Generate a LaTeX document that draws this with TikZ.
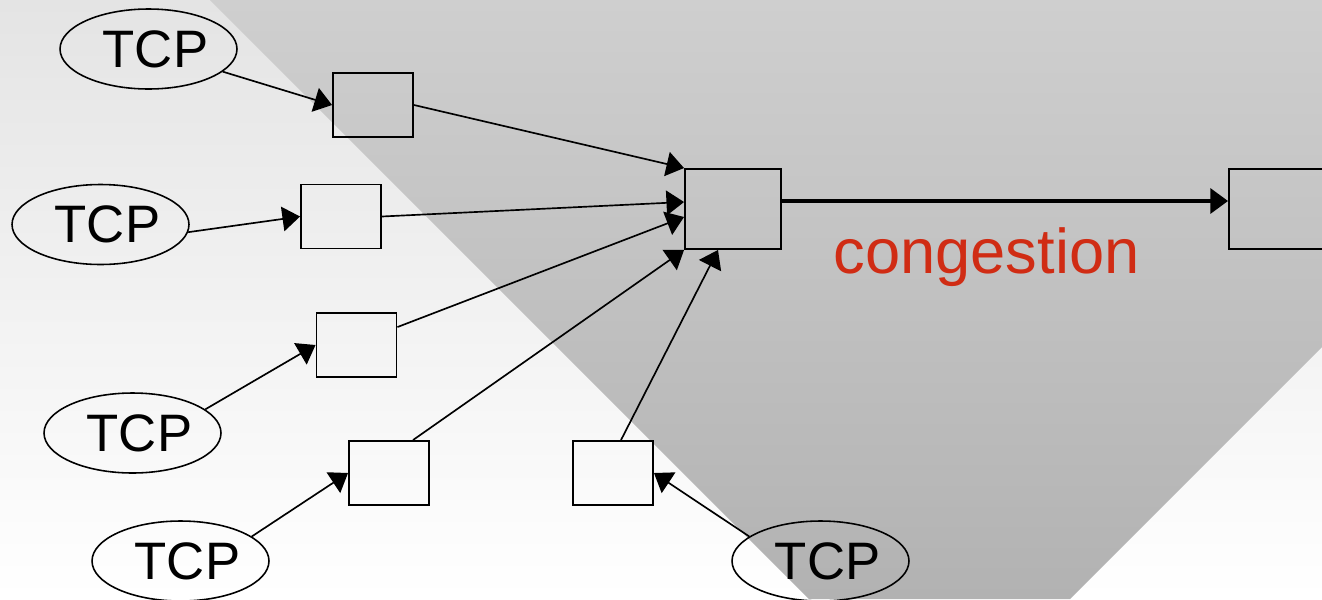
\documentclass[tikz,border=0pt]{standalone}
\usepackage{fontspec}
\setmainfont{Liberation Sans}
\usepackage{tikz}
\usetikzlibrary{arrows.meta,calc,shapes.geometric}
\definecolor{congRed}{HTML}{D02C14}
\definecolor{bgGray}{HTML}{E4E4E4}
\definecolor{zoneTop}{HTML}{CFCFCF}
\definecolor{zoneBot}{HTML}{B2B2B2}

\begin{document}
\begin{tikzpicture}[
    x=0.02cm, y=-0.02cm,
    >={Triangle[length=10pt,width=14pt]},
    every node/.style={font=\fontsize{30}{36}\selectfont},
    tcp/.style={ellipse,draw,line width=0.9pt,inner sep=0pt,
                minimum width=3.54cm,minimum height=1.6cm},
    queue/.style={rectangle,draw,line width=1.1pt,inner sep=0pt,
                  minimum width=1.6cm,minimum height=1.28cm},
    router/.style={queue,minimum width=1.92cm,minimum height=1.6cm},
    arr/.style={->,line width=0.95pt},
    bottleneck/.style={->,line width=2.3pt},
    lab/.style={font=\fontsize{36}{43}\selectfont,text=congRed}
  ]
  \useasboundingbox (0,0) rectangle (1322,599);
  %% Background and the shaded congestion zone
  \shade[top color=bgGray,bottom color=white] (0,0) rectangle (1322,599);
  \shade[top color=zoneTop,bottom color=zoneBot]
        (210,0) -- (1322,0) -- (1322,347) -- (1070,599) -- (809,599) -- cycle;
  %% Senders
  \node[tcp] (tcp1) at (148.5,49)  {\hspace*{.28cm}TCP};
  \node[tcp] (tcp2) at (100.5,224.5) {\hspace*{.28cm}TCP};
  \node[tcp] (tcp3) at (132.5,433) {\hspace*{.28cm}TCP};
  \node[tcp] (tcp4) at (180.5,561) {\hspace*{.28cm}TCP};
  \node[tcp] (tcp5) at (820.5,561) {\hspace*{.28cm}TCP};
  %% Access queues
  \node[queue] (q1) at (373,105)   {};
  \node[queue] (q2) at (341,216.5) {};
  \node[queue] (q3) at (356.5,345) {};
  \node[queue] (q4) at (389,473)   {};
  \node[queue] (q5) at (613,473)   {};
  %% Shared router and downstream link
  \node[router] (rt)   at (733,209)  {};
  \node[router] (sink) at (1277,209) {};
  %% Sender edges
  \draw[arr] (tcp1) -- (q1.west);
  \draw[arr] (tcp2.-5) -- (q2.west);
  \draw[arr] (tcp3.18) -- (q3.west);
  \draw[arr] (tcp4.19) -- (q4.west);
  \draw[arr] (tcp5.161) -- (q5.east);
  %% Fan-in to the router
  \draw[arr] (q1.east) -- (rt.north west);
  \draw[arr] (q2.east) -- ($(rt.west)+(0,-7)$);
  \draw[arr] ($(q3.north east)+(0,15)$) -- ($(rt.west)+(0,8)$);
  \draw[arr] ($(q4.north)+(24,0)$) -- (rt.south west);
  \draw[arr] ($(q5.north)+(8,0)$) -- ($(rt.south)+(-15,0)$);
  %% Bottleneck link
  \draw[bottleneck] ($(rt.east)+(0,-8)$) -- ($(sink.west)+(0,-8)$);
  \node[lab,anchor=base] (cong) at (986.5,273) {congestion};
\end{tikzpicture}
\end{document}
